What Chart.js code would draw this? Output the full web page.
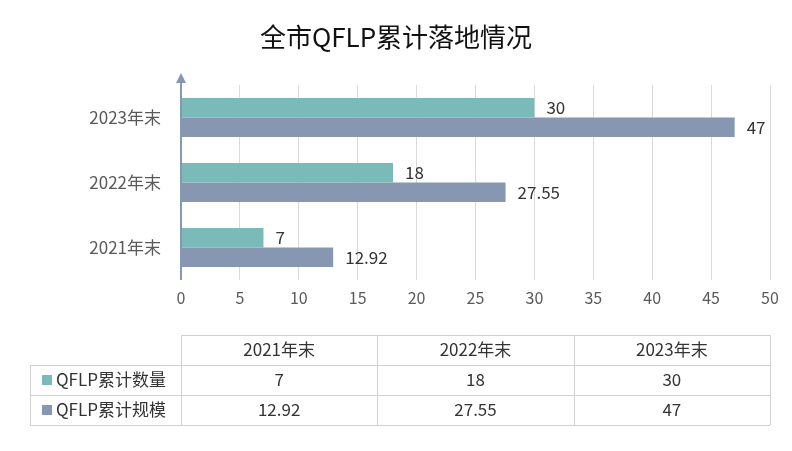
<!DOCTYPE html>
<html>
<head>
<meta charset="utf-8">
<script src="https://cdn.jsdelivr.net/npm/chart.js@4"></script>
<style>
  body { margin: 0; background: #fff; }
  #wrap { width: 792px; height: 451px; }
</style>
</head>
<body>
<div id="wrap"><canvas id="chartCanvas"></canvas></div>
<script>
// Datos
const categories = ["2023年末", "2022年末", "2021年末"];
const tableCategories = ["2021年末", "2022年末", "2023年末"];
const countLabel = "QFLP累计数量";
const scaleLabel = "QFLP累计规模";
const countValues = [30, 18, 7];
const scaleValues = [47, 27.55, 12.92];
const xTicks = [0, 5, 10, 15, 20, 25, 30, 35, 40, 45, 50];

const tealColor = "#7abab8";
const blueColor = "#8796b1";
const fontFamily = "'Noto Sans CJK SC', 'Noto Sans', sans-serif";

// título, etiquetas, flecha del eje y tabla de datos
const extrasPlugin = {
  id: "extras",
  afterDraw(chart) {
    const ctx = chart.ctx;
    const area = chart.chartArea;
    ctx.save();

    ctx.fillStyle = "#111";
    ctx.font = "26px " + fontFamily;
    ctx.textAlign = "center";
    ctx.textBaseline = "middle";
    ctx.fillText("全市QFLP累计落地情况", 396, 37);

    // flecha
    ctx.strokeStyle = "#8796b1";
    ctx.lineWidth = 2;
    ctx.beginPath();
    ctx.moveTo(area.left, area.bottom);
    ctx.lineTo(area.left, area.top - 4);
    ctx.stroke();
    ctx.fillStyle = "#8796b1";
    ctx.beginPath();
    ctx.moveTo(area.left, area.top - 12);
    ctx.lineTo(area.left - 5, area.top - 2);
    ctx.lineTo(area.left + 5, area.top - 2);
    ctx.closePath();
    ctx.fill();

    // etiquetas de valor
    ctx.font = "17px " + fontFamily;
    ctx.fillStyle = "#333";
    ctx.textAlign = "left";
    chart.data.datasets.forEach((ds, di) => {
      chart.getDatasetMeta(di).data.forEach((bar, i) => {
        ctx.fillText(String(ds.data[i]), bar.x + 12, bar.y);
      });
    });

    // tabla
    const top = 335, rowH = 30, colW = (area.right - area.left) / 3;
    ctx.strokeStyle = "#d0d0d0";
    ctx.lineWidth = 1;
    ctx.beginPath();
    for (let r = 0; r <= 3; r++) {
      const y = top + r * rowH + 0.5;
      ctx.moveTo(r === 0 ? area.left : 30, y);
      ctx.lineTo(area.right, y);
    }
    for (let c = 0; c <= 3; c++) {
      const x = Math.round(area.left + c * colW) + 0.5;
      ctx.moveTo(x, top);
      ctx.lineTo(x, top + 3 * rowH);
    }
    ctx.moveTo(30.5, top + rowH);
    ctx.lineTo(30.5, top + 3 * rowH);
    ctx.stroke();

    ctx.font = "17px " + fontFamily;
    ctx.fillStyle = "#333";
    ctx.textAlign = "center";
    const rows = [countValues.slice().reverse(), scaleValues.slice().reverse()];
    tableCategories.forEach((c, i) => {
      const cx = area.left + colW * (i + 0.5);
      ctx.fillText(c, cx, top + rowH / 2);
      ctx.fillText(String(rows[0][i]), cx, top + rowH * 1.5);
      ctx.fillText(String(rows[1][i]), cx, top + rowH * 2.5);
    });
    ctx.textAlign = "left";
    [[countLabel, tealColor], [scaleLabel, blueColor]].forEach(([label, color], i) => {
      const cy = top + rowH * (1.5 + i);
      ctx.fillStyle = color;
      ctx.fillRect(42, cy - 5, 10, 10);
      ctx.fillStyle = "#333";
      ctx.fillText(label, 56, cy);
    });

    ctx.restore();
  },
};

new Chart(document.getElementById("chartCanvas"), {
  type: "bar",
  data: {
    labels: categories,
    datasets: [
      { label: countLabel, data: countValues, backgroundColor: tealColor, categoryPercentage: 0.6, barPercentage: 1 },
      { label: scaleLabel, data: scaleValues, backgroundColor: blueColor, categoryPercentage: 0.6, barPercentage: 1 },
    ],
  },
  options: {
    indexAxis: "y",
    responsive: true,
    maintainAspectRatio: false,
    animation: false,
    layout: { padding: { top: 85, right: 22, bottom: 141, left: 0 } },
    plugins: { legend: { display: false }, title: { display: false }, tooltip: { enabled: false } },
    scales: {
      x: {
        min: 0,
        max: 50,
        afterBuildTicks(scale) { scale.ticks = xTicks.map((v) => ({ value: v })); },
        afterFit(scale) { scale.height = 30; },
        grid: { color: "#d9d9d9", drawTicks: false },
        border: { display: false },
        ticks: { color: "#595959", font: { size: 16, family: fontFamily }, padding: 8 },
      },
      y: {
        afterFit(scale) { scale.width = 181; },
        grid: { display: false },
        border: { display: false },
        ticks: { color: "#595959", font: { size: 17, family: fontFamily }, padding: 12 },
      },
    },
  },
  plugins: [extrasPlugin],
});
</script>
</body>
</html>
